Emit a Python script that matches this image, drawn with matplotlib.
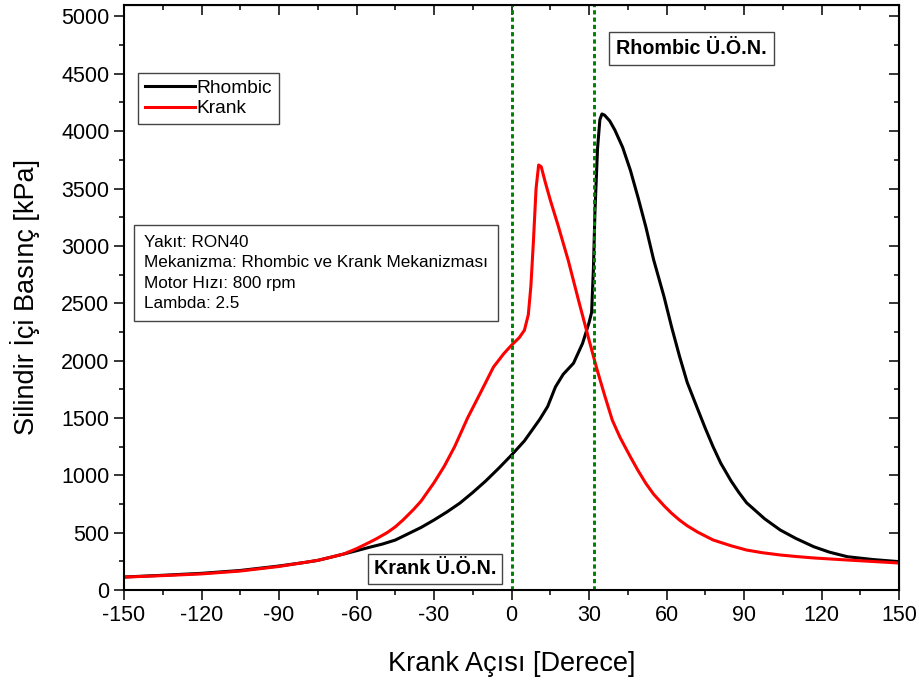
import matplotlib
matplotlib.use("Agg")
import matplotlib.pyplot as plt

plt.rcParams['font.family'] = ['Liberation Sans', 'DejaVu Sans']
plt.rcParams['axes.unicode_minus'] = False

# Rhombic mekanizma
rh_x = [-150, -135, -120, -105, -90, -80, -75, -70, -65, -60, -55, -50, -45, -40, -35, -30, -25,
        -20, -15, -10, -5, 0, 5, 11, 14, 17, 20, 24, 27.5, 30, 31, 31.7, 32.3, 33.3, 34.2, 35,
        36, 38, 40, 43, 46, 49, 52, 55, 59, 62, 65, 68, 72, 75, 78, 81, 85, 88, 91, 95, 98,
        104, 110, 117, 123, 130, 140, 150]
rh_y = [113, 128, 145, 170, 209, 240, 258, 285, 313, 342, 372, 400, 435, 490, 545, 610, 680,
        757, 850, 950, 1060, 1176, 1300, 1490, 1600, 1770, 1880, 1977, 2150, 2330, 2420, 2800,
        3300, 3850, 4100, 4150, 4140, 4090, 4010, 3860, 3660, 3420, 3165, 2880, 2560, 2290,
        2040, 1810, 1580, 1410, 1250, 1105, 950, 850, 760, 680, 620, 523, 450, 377, 330, 290,
        265, 247]

# Krank mekanizma
kr_x = [-150, -135, -120, -105, -90, -75, -65, -60, -55, -52, -48, -45, -42, -38, -35, -30, -26,
        -22, -17, -12, -7, -3, 0, 3, 5, 6.5, 7.5, 8.5, 9.5, 10.5, 11.5, 13, 15, 18, 22, 26, 30,
        33, 36, 39, 42, 46, 49, 52, 55, 59, 62, 65, 68, 72, 78, 85, 91, 97, 104, 110, 117, 130,
        140, 150]
kr_y = [112, 125, 140, 165, 205, 258, 313, 360, 415, 450, 502, 550, 610, 700, 775, 935, 1080,
        1250, 1500, 1720, 1943, 2060, 2134, 2200, 2265, 2400, 2650, 3050, 3500, 3705, 3690, 3560,
        3400, 3180, 2870, 2520, 2180, 1930, 1700, 1481, 1330, 1161, 1040, 929, 835, 735, 668,
        610, 560, 505, 436, 385, 348, 325, 305, 292, 279, 261, 248, 235]

tdc_krank = 0
tdc_rhombic = 32

x_ticks = list(range(-150, 151, 30))
y_ticks = list(range(0, 5001, 500))
x_minor = list(range(-135, 150, 30))
y_minor = list(range(250, 5000, 500))

info = "Yakıt: RON40\nMekanizma: Rhombic ve Krank Mekanizması\nMotor Hızı: 800 rpm\nLambda: 2.5"

fig = plt.figure(figsize=(9.2, 6.86), dpi=100)
ax = fig.add_axes([0.1348, 0.140, 0.8424, 0.8527])

ax.plot(rh_x, rh_y, color='black', lw=2.2, label='Rhombic')
ax.plot(kr_x, kr_y, color='red', lw=2.2, label='Krank')
ax.axvline(tdc_krank, color='green', lw=2.1, linestyle=(0, (1.45, 1.05)))
ax.axvline(tdc_rhombic, color='green', lw=2.1, linestyle=(0, (1.45, 1.05)))

ax.set_xlim(-150, 150)
ax.set_ylim(0, 5100)
ax.set_xticks(x_ticks)
ax.set_yticks(y_ticks)
ax.set_xticks(x_minor, minor=True)
ax.set_yticks(y_minor, minor=True)
ax.tick_params(which='major', direction='out', length=7.5, width=1.1, labelsize=15.5, pad=3)
ax.tick_params(which='minor', direction='out', length=3.8, width=1.1)
for s in ax.spines.values():
    s.set_linewidth(1.5)

# ust ve sag eksende iceri bakan tikler
top = ax.secondary_xaxis('top')
top.set_xticks(x_ticks)
top.set_xticks(x_minor, minor=True)
top.tick_params(which='major', direction='in', length=7.5, width=1.1, labeltop=False)
top.tick_params(which='minor', direction='in', length=3.8, width=1.1)
right = ax.secondary_yaxis('right')
right.set_yticks(y_ticks)
right.set_yticks(y_minor, minor=True)
right.tick_params(which='major', direction='in', length=7.5, width=1.1, labelright=False)
right.tick_params(which='minor', direction='in', length=3.8, width=1.1)

ax.set_xlabel('Krank Açısı [Derece]', fontsize=19.5, labelpad=18)
ax.set_ylabel('Silindir İçi Basınç [kPa]', fontsize=19.5, labelpad=15)

leg = ax.legend(loc='upper left', bbox_to_anchor=(0.018, 0.884), borderaxespad=0,
                fontsize=13.8, handlelength=2.6, handletextpad=0.1, labelspacing=0.15,
                fancybox=False, framealpha=1, borderpad=0.35)
leg.get_frame().set_edgecolor('#444444')
leg.get_frame().set_linewidth(1.0)

ax.text(0.026, 0.607, info, transform=ax.transAxes, fontsize=12.3, va='top', ha='left',
        linespacing=1.45,
        bbox=dict(boxstyle='square,pad=0.6', fc='white', ec='#444444', lw=1.0))

ax.text(69.7, 4721, 'Rhombic Ü.Ö.N.', fontsize=14.2, fontweight='bold', ha='center', va='center',
        bbox=dict(boxstyle='square,pad=0.35', fc='white', ec='#444444', lw=1.0))
ax.text(-29.6, 183, 'Krank Ü.Ö.N.', fontsize=14.2, fontweight='bold', ha='center', va='center',
        bbox=dict(boxstyle='square,pad=0.3', fc='white', ec='#444444', lw=1.0))

fig.savefig('out.png', dpi=100)
